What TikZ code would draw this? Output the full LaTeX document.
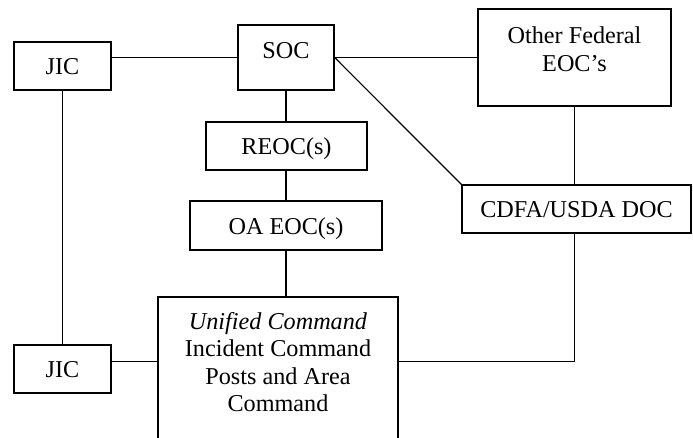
\documentclass[tikz,border=0pt]{standalone}
\usepackage{fontspec}
\setmainfont{Liberation Serif}
\begin{document}
\begin{tikzpicture}[x=1pt,y=-1pt,
  every node/.style={font=\fontsize{24.2}{27.5}\selectfont},
  tbox/.style 2 args={draw, line width=1.3pt, inner sep=0pt,
    label={[anchor=base, yshift=#2, align=center, inner sep=0pt]north:#1}},
  conn/.style={line width=1.2pt}]
\useasboundingbox (0,0) rectangle (693,438);
\clip (0,0) rectangle (693,438);
\node[tbox={JIC}{-33.5pt}, minimum width=97pt, minimum height=48pt] (jic1) at (62.5,66) {};
\node[tbox={SOC}{-34pt}, minimum width=96pt, minimum height=65pt] (soc) at (286,57.5) {};
\node[tbox={Other Federal\\EOC’s}{-63pt}, minimum width=193pt, minimum height=97pt] (fed) at (574.5,57.5) {};
\node[tbox={REOC(s)}{-33.5pt}, minimum width=161pt, minimum height=48pt] (reoc) at (286.5,146) {};
\node[tbox={OA EOC(s)}{-34pt}, minimum width=192pt, minimum height=49pt] (oa) at (286,225.5) {};
\node[tbox={CDFA/USDA DOC}{-33.5pt}, minimum width=229pt, minimum height=48pt] (cdfa) at (576.5,209) {};
\node[tbox={\textit{Unified Command}\\Incident Command\\Posts and Area\\Command}{-115.5pt}, minimum width=240pt, minimum height=173pt] (unif) at (278,383.5) {};
\node[tbox={JIC}{-33.5pt}, minimum width=97pt, minimum height=48pt] (jic2) at (62.5,369) {};
\coordinate (ujoin) at (0,361.5);
\draw[conn] (soc.west) -- (soc.west -| jic1.east);
\draw[conn] (soc.east) -- (fed.west);
\draw[conn] (soc.east) -- (cdfa.north west);
\draw[conn] (jic1) -- (jic2);
\draw[conn] (soc.south) -- (soc.south |- reoc.north);
\draw[conn] (soc.south |- reoc.south) -- (soc.south |- oa.north);
\draw[conn] (soc.south |- oa.south) -- (soc.south |- unif.north);
\draw[conn] (fed.south) -- (fed.south |- cdfa.north);
\draw[conn] (fed.south |- cdfa.south) |- (unif.east |- ujoin);
\draw[conn] (jic2.east |- ujoin) -- (unif.west |- ujoin);
\end{tikzpicture}
\end{document}
